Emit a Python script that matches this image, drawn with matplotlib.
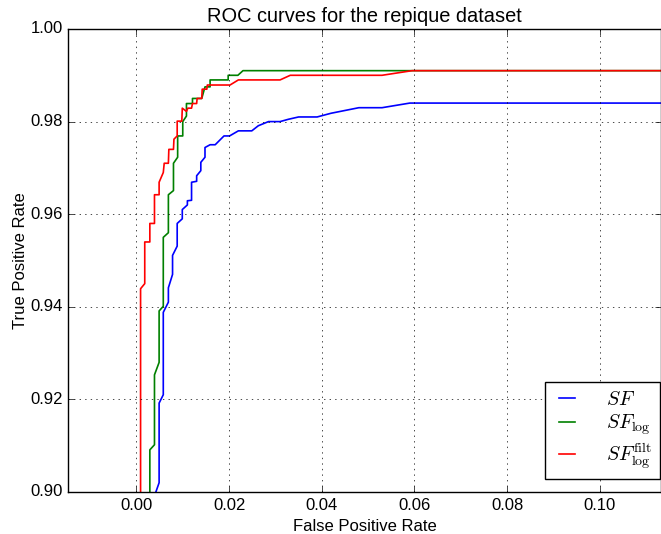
import matplotlib
matplotlib.use('Agg')
import matplotlib.pyplot as plt

# ROC points for the three detectors (false positive rate, true positive rate)
fpr_sf = [0.0042, 0.0049, 0.0049, 0.0058, 0.0058, 0.0069, 0.0069, 0.0078, 0.0078,
          0.0088, 0.0088, 0.0099, 0.0099, 0.0110, 0.0110, 0.0119, 0.0119, 0.0130,
          0.0130, 0.0139, 0.0139, 0.0148, 0.0148, 0.0159, 0.0170, 0.0189, 0.0201,
          0.0220, 0.0249, 0.0263, 0.0285, 0.0310, 0.0328, 0.0350, 0.0390, 0.0420,
          0.0460, 0.0480, 0.0530, 0.0590, 0.1150]
tpr_sf = [0.9000, 0.9020, 0.9192, 0.9210, 0.9388, 0.9410, 0.9441, 0.9470, 0.9511,
          0.9531, 0.9580, 0.9590, 0.9610, 0.9620, 0.9629, 0.9630, 0.9669, 0.9671,
          0.9683, 0.9694, 0.9712, 0.9723, 0.9744, 0.9750, 0.9750, 0.9769, 0.9769,
          0.9780, 0.9780, 0.9791, 0.9800, 0.9800, 0.9805, 0.9810, 0.9810, 0.9818,
          0.9826, 0.9830, 0.9830, 0.9840, 0.9840]

fpr_log = [0.0029, 0.0029, 0.0039, 0.0039, 0.0049, 0.0049, 0.0058, 0.0058, 0.0069,
           0.0069, 0.0080, 0.0080, 0.0089, 0.0089, 0.0100, 0.0100, 0.0108, 0.0108,
           0.0121, 0.0121, 0.0141, 0.0148, 0.0159, 0.0159, 0.0198, 0.0198, 0.0219,
           0.0230, 0.1150]
tpr_log = [0.9000, 0.9091, 0.9102, 0.9253, 0.9280, 0.9391, 0.9401, 0.9550, 0.9560,
           0.9642, 0.9651, 0.9710, 0.9723, 0.9769, 0.9769, 0.9800, 0.9812, 0.9839,
           0.9839, 0.9850, 0.9850, 0.9875, 0.9875, 0.9890, 0.9890, 0.9900, 0.9900,
           0.9910, 0.9910]

fpr_filt = [0.0009, 0.0009, 0.0018, 0.0018, 0.0029, 0.0029, 0.0039, 0.0039, 0.0049,
            0.0049, 0.0058, 0.0060, 0.0069, 0.0070, 0.0080, 0.0081, 0.0088, 0.0088,
            0.0098, 0.0099, 0.0108, 0.0111, 0.0119, 0.0121, 0.0130, 0.0131, 0.0141,
            0.0142, 0.0152, 0.0153, 0.0202, 0.0220, 0.0310, 0.0332, 0.0530, 0.0595,
            0.1150]
tpr_filt = [0.9000, 0.9439, 0.9450, 0.9540, 0.9540, 0.9580, 0.9580, 0.9642, 0.9642,
            0.9669, 0.9690, 0.9710, 0.9710, 0.9740, 0.9740, 0.9762, 0.9769, 0.9801,
            0.9801, 0.9829, 0.9822, 0.9829, 0.9829, 0.9839, 0.9839, 0.9850, 0.9850,
            0.9870, 0.9870, 0.9879, 0.9879, 0.9890, 0.9890, 0.9900, 0.9900, 0.9910,
            0.9910]

plt.style.use('classic')
plt.rcParams['font.family'] = ['Liberation Sans', 'DejaVu Sans']

fig = plt.figure(figsize=(6.61, 5.34))
ax = fig.add_axes([0.1033, 0.0787, 0.8960, 0.8670])

ax.plot(fpr_sf, tpr_sf, color='b', linewidth=1.2, label=r'$SF$')
ax.plot(fpr_log, tpr_log, color='g', linewidth=1.2, label=r'$SF_{\log}$')
ax.plot(fpr_filt, tpr_filt, color='r', linewidth=1.2, label=r'$SF_{\log}^{\rm filt}$')

ax.set_xlim(-0.0147, 0.1131)
ax.set_ylim(0.90, 1.00)
ax.set_xticks([0.00, 0.02, 0.04, 0.06, 0.08, 0.10])
ax.set_yticks([0.90, 0.92, 0.94, 0.96, 0.98, 1.00])
ax.set_xticklabels(['0.00', '0.02', '0.04', '0.06', '0.08', '0.10'])
ax.set_yticklabels(['0.90', '0.92', '0.94', '0.96', '0.98', '1.00'])
ax.grid(True)

ax.set_xlabel('False Positive Rate', labelpad=5)
ax.set_ylabel('True Positive Rate', labelpad=1.5)
ax.set_title('ROC curves for the repique dataset', fontsize=14.4)
ax.legend(loc='lower right', bbox_to_anchor=(0.9985, 0.028), borderaxespad=0,
          fontsize=14.4, handlelength=1.4, handletextpad=1.25, borderpad=0.4,
          labelspacing=0.2)

fig.savefig('out.png', dpi=100)
